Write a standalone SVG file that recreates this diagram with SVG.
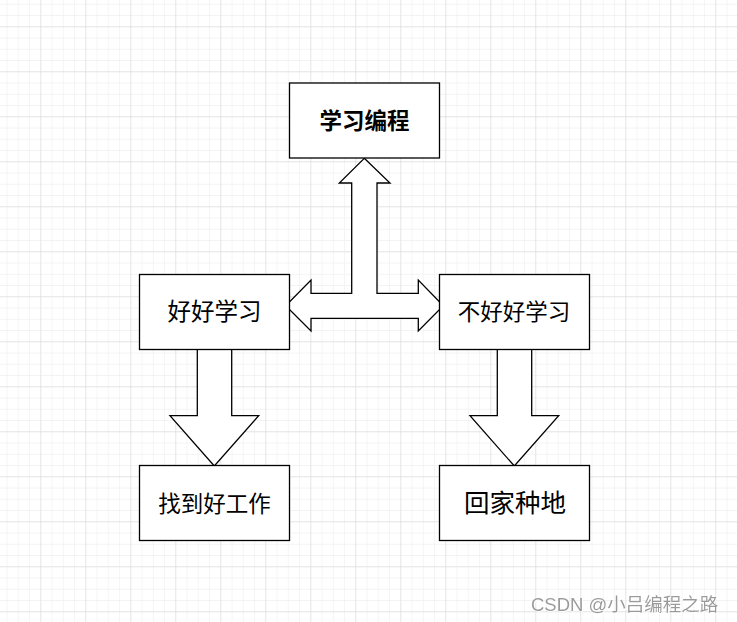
<svg xmlns="http://www.w3.org/2000/svg" width="737" height="622" viewBox="0 0 737 622">
  <defs>
    <pattern id="minor" x="-3.75" y="-17.75" width="11.25" height="11.25" patternUnits="userSpaceOnUse">
      <path d="M 11.25 0 V 11.25 M 0 11.25 H 11.25" fill="none" stroke="#f0f0f0" stroke-width="1.2"/>
    </pattern>
    <pattern id="major" x="-3.75" y="-17.75" width="45" height="45" patternUnits="userSpaceOnUse">
      <path d="M 45 0 V 45 M 0 45 H 45" fill="none" stroke="#d6d6d6" stroke-width="1"/>
    </pattern>
    <filter id="sh" x="-5%" y="-20%" width="110%" height="140%">
      <feDropShadow dx="0.8" dy="0.8" stdDeviation="0.4" flood-color="#ffffff" flood-opacity="1"/>
    </filter>
  </defs>
  <style>
    .box { fill: #ffffff; stroke: #000000; stroke-width: 1.3; }
    .arrow { fill: #ffffff; stroke: #000000; stroke-width: 1.3; stroke-linejoin: miter; }
    .lbl { font-family: "Noto Sans CJK SC", "Noto Sans", sans-serif; font-size: 22.5px; fill: #000000; text-anchor: middle; }
    .bold { font-weight: bold; }
    .wm { font-family: "Liberation Sans", "Noto Sans CJK SC", sans-serif; font-size: 18.5px; fill: #9a9a9a; }
  </style>
  <rect x="0" y="0" width="737" height="622" fill="#ffffff"/>
  <rect x="0" y="0" width="737" height="622" fill="url(#minor)"/>
  <rect x="0" y="0" width="737" height="622" fill="url(#major)"/>

  <g id="connectors">
    <polygon class="arrow" points="364.3,158.3 390,183 377,183 377,293.3 418.3,293.3 418.3,280 443.3,305.7 418.3,331 418.3,318.3 311,318.3 311,331 285.7,305.7 311,280 311,293.3 351.7,293.3 351.7,183 339.3,183"/>
    <polygon class="arrow" points="197.3,349 231.7,349 231.7,415.7 258.7,415.7 214.3,466 170,415.7 197.3,415.7"/>
    <polygon class="arrow" points="497.3,349 531.7,349 531.7,415.7 558.7,415.7 514.3,466 470,415.7 497.3,415.7"/>
  </g>

  <g id="node-study-programming">
    <rect class="box" x="289.5" y="83" width="150" height="75"/>
    <text class="lbl bold" x="364.5" y="129">学习编程</text>
  </g>
  <g id="node-study-well">
    <rect class="box" x="139.5" y="274.5" width="150" height="75"/>
    <text class="lbl" x="214.5" y="320.3" style="font-size:23.5px">好好学习</text>
  </g>
  <g id="node-not-study-well">
    <rect class="box" x="439.5" y="274.5" width="150" height="75"/>
    <text class="lbl" x="514" y="320.3">不好好学习</text>
  </g>
  <g id="node-find-job">
    <rect class="box" x="139.5" y="465.5" width="150" height="75"/>
    <text class="lbl" x="214.5" y="511.5">找到好工作</text>
  </g>
  <g id="node-go-home-farm">
    <rect class="box" x="439.5" y="465.5" width="150" height="75"/>
    <text class="lbl" x="515" y="512" style="font-size:25.5px">回家种地</text>
  </g>

  <text class="wm" x="531" y="611" filter="url(#sh)">CSDN @小吕编程之路</text>
</svg>
